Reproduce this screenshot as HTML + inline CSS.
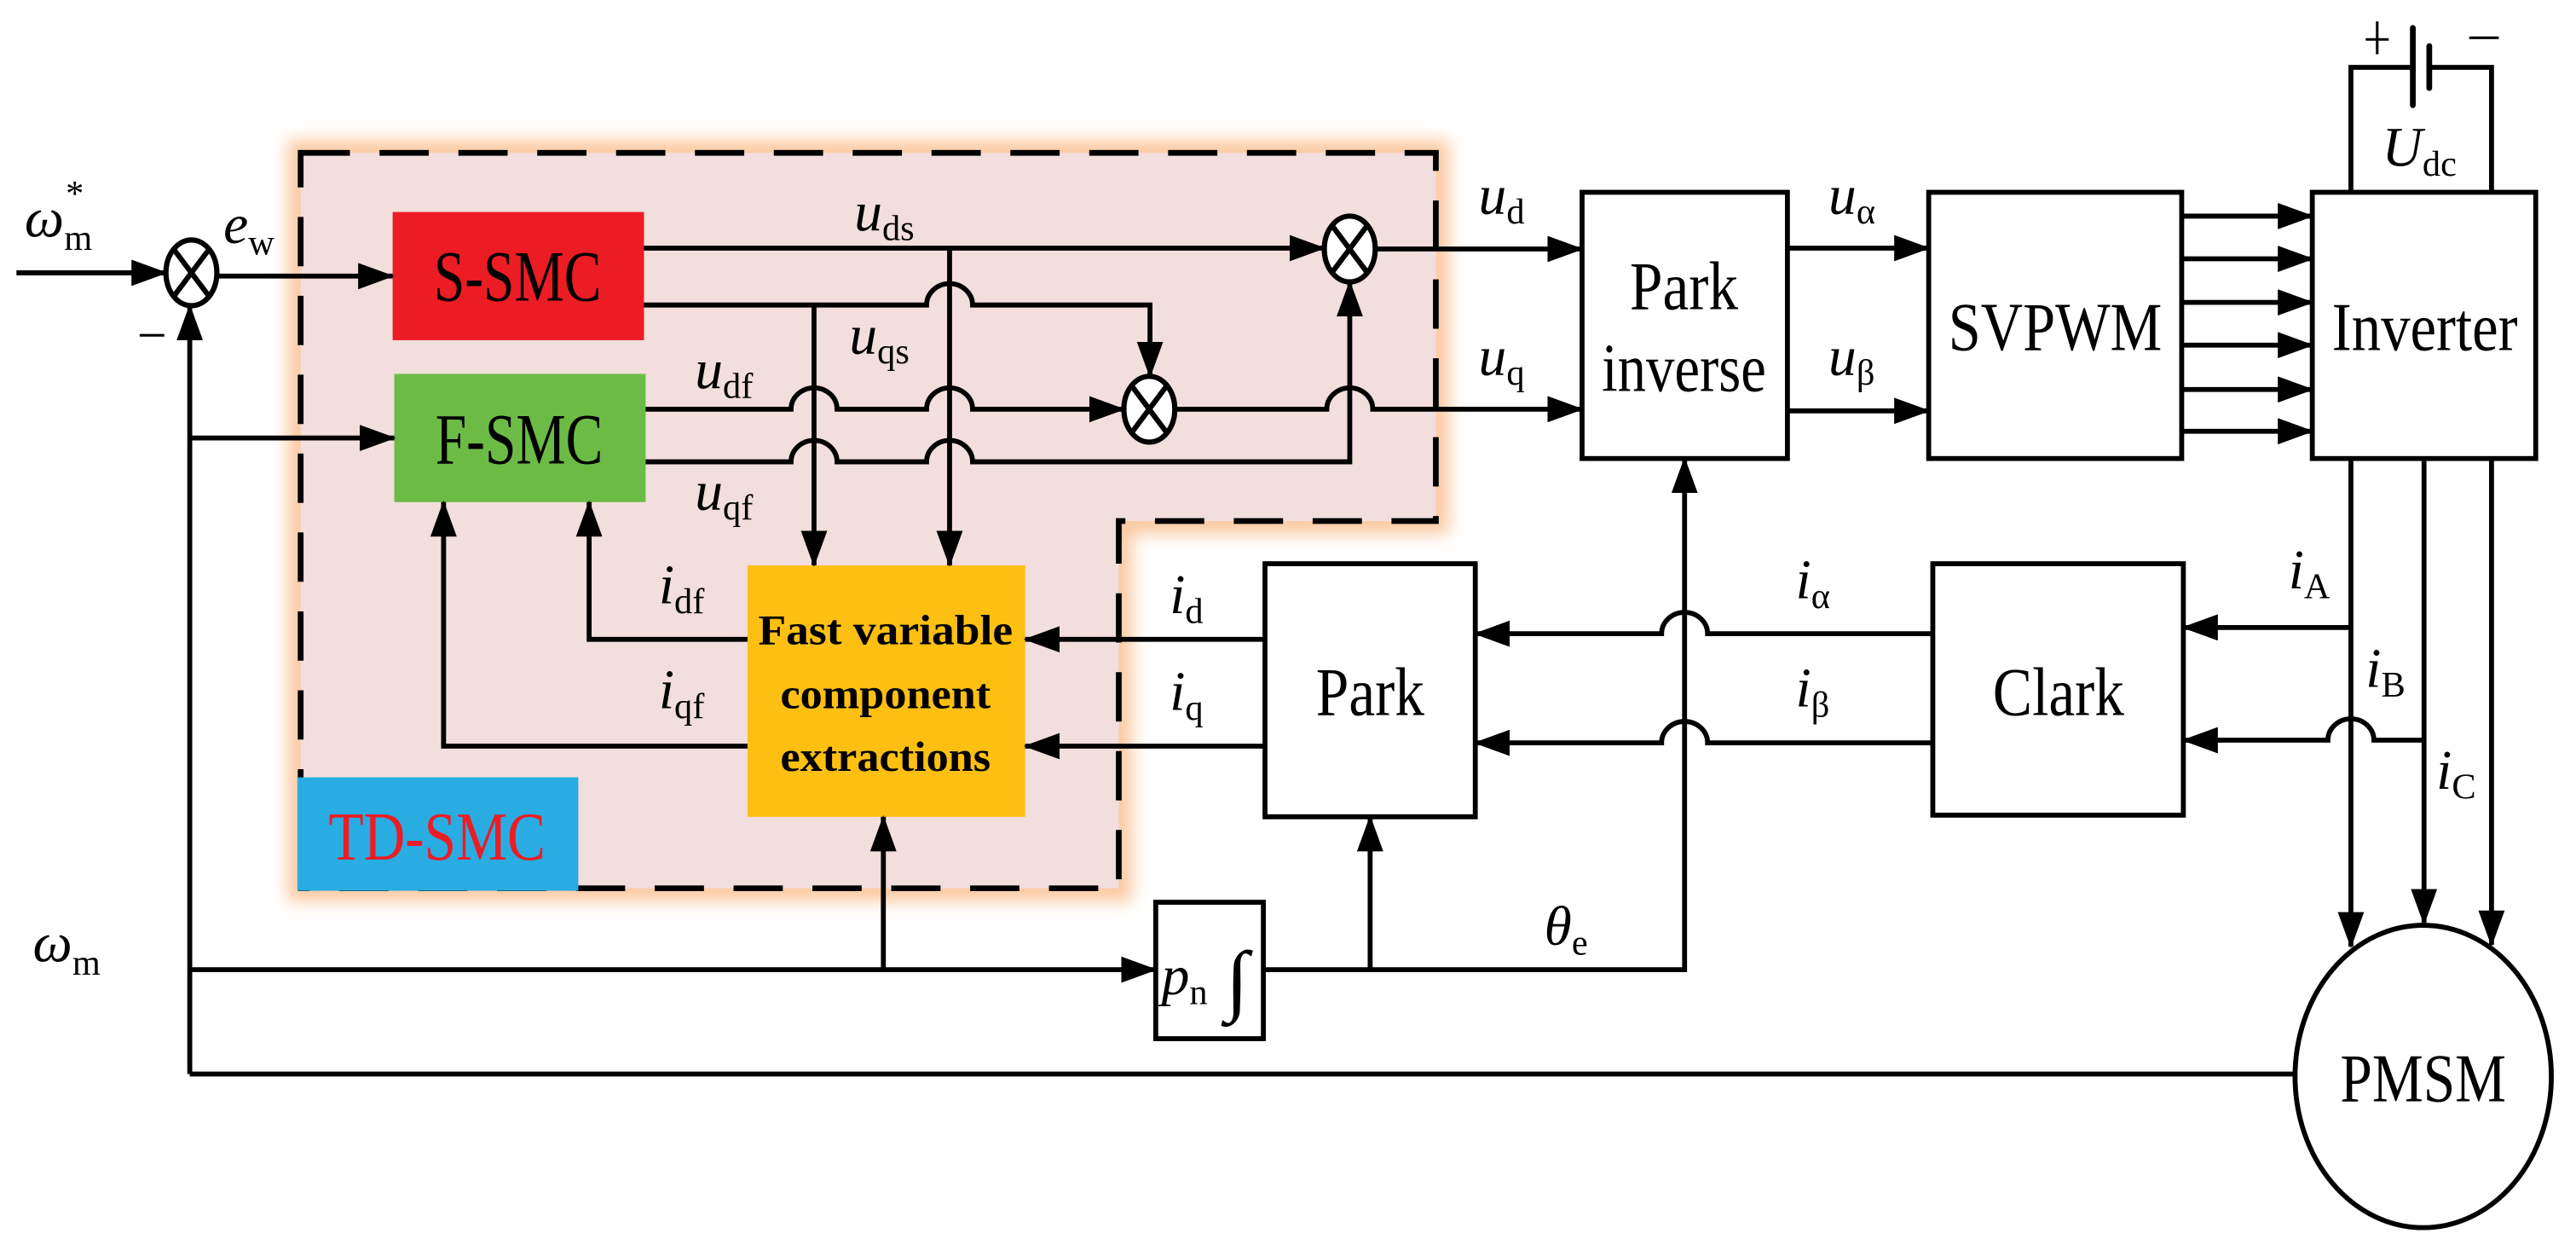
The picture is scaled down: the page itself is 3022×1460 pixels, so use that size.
<!DOCTYPE html>
<html><head><meta charset="utf-8"><style>
html,body{margin:0;padding:0;background:#fff;}
svg{display:block;}
text{font-family:"Liberation Serif",serif;fill:#000;}
.it{font-style:italic;}
</style></head><body>
<svg width="3022" height="1460" viewBox="0 0 1568 757.55" xmlns="http://www.w3.org/2000/svg">
<defs>
<marker id="a" markerWidth="22" markerHeight="18" refX="21" refY="8" orient="auto" markerUnits="userSpaceOnUse">
<path d="M0,0 L22,8 L0,16 Z" fill="#000"/></marker>
<filter id="glow" x="-10%" y="-10%" width="120%" height="120%"><feGaussianBlur stdDeviation="5"/></filter>
</defs>
<path d="M183,93 H874 V317 H681 V540.5 H183 Z" fill="none" stroke="#fbc9a0" stroke-width="16" filter="url(#glow)"/>
<path d="M183,93 H874 V317 H681 V540.5 H183 Z" fill="#f2dedc"/>
<path d="M183,93 H874 V317 H681 V540.5 H183 Z" fill="none" stroke="#000" stroke-width="3.5" stroke-dasharray="30 18"/>

<rect x="239" y="129" width="153" height="78" fill="#ec1c24"/>
<text x="315" y="183" font-size="44" text-anchor="middle" textLength="102" lengthAdjust="spacingAndGlyphs">S-SMC</text>
<rect x="240" y="227.5" width="153" height="78" fill="#6cbb45"/>
<text x="316" y="282" font-size="44" text-anchor="middle" textLength="102" lengthAdjust="spacingAndGlyphs">F-SMC</text>
<rect x="455" y="344" width="169" height="153" fill="#fcbf12"/>
<g font-weight="bold" font-size="26" text-anchor="middle">
<text x="539" y="392" textLength="155" lengthAdjust="spacingAndGlyphs">Fast variable</text>
<text x="539" y="431" textLength="128" lengthAdjust="spacingAndGlyphs">component</text>
<text x="539" y="469" textLength="128" lengthAdjust="spacingAndGlyphs">extractions</text>
</g>
<rect x="181" y="473" width="171" height="69" fill="#29ace2"/>
<text x="266" y="523" font-size="42" text-anchor="middle" style="fill:#ec1c24" textLength="132" lengthAdjust="spacingAndGlyphs">TD-SMC</text>

<g fill="#fff" stroke="#000" stroke-width="3">
<rect x="963" y="117" width="125" height="162"/>
<rect x="1174" y="117" width="154" height="162"/>
<rect x="1407.5" y="117" width="136" height="162"/>
<rect x="770" y="343" width="128" height="154"/>
<rect x="1176.5" y="343" width="152.5" height="153"/>
<rect x="703.5" y="549" width="65.5" height="83"/>
<ellipse cx="1475" cy="655" rx="78" ry="92"/>
</g>
<g font-size="42" text-anchor="middle">
<text x="1025" y="188" textLength="66" lengthAdjust="spacingAndGlyphs">Park</text>
<text x="1025" y="238" textLength="100" lengthAdjust="spacingAndGlyphs">inverse</text>
<text x="1251" y="213" textLength="130" lengthAdjust="spacingAndGlyphs">SVPWM</text>
<text x="1476" y="213" textLength="113" lengthAdjust="spacingAndGlyphs">Inverter</text>
<text x="834" y="435" textLength="66" lengthAdjust="spacingAndGlyphs">Park</text>
<text x="1253" y="435" textLength="80" lengthAdjust="spacingAndGlyphs">Clark</text>
<text x="1475" y="670" textLength="101" lengthAdjust="spacingAndGlyphs">PMSM</text>
</g>

<g fill="#fff" stroke="#000" stroke-width="3.2">
<ellipse cx="116.5" cy="166" rx="15.5" ry="20"/>
<ellipse cx="821.6" cy="151.5" rx="15.5" ry="20"/>
<ellipse cx="699.6" cy="249" rx="15.5" ry="20"/>
</g>
<g stroke="#000" stroke-width="3.2">
<path d="M106,152 L127,180 M127,152 L106,180"/>
<path d="M811,137.5 L832,165.5 M832,137.5 L811,165.5"/>
<path d="M689,235 L710,263 M710,235 L689,263"/>
</g>

<g fill="none" stroke="#000" stroke-width="3">
<path d="M10,166 H101" marker-end="url(#a)"/>
<path d="M132,168 H239" marker-end="url(#a)"/>
<path d="M115.5,653.5 V186" marker-end="url(#a)"/>
<path d="M115.5,653.5 H1397"/>
<path d="M115.5,266.5 H240" marker-end="url(#a)"/>
<path d="M115.5,590 H703.5" marker-end="url(#a)"/>
<path d="M537.7,590 V497" marker-end="url(#a)"/>
<path d="M769,590 H1025.4 V279" marker-end="url(#a)"/>
<path d="M834,590 V497" marker-end="url(#a)"/>
<path d="M392,151 H806" marker-end="url(#a)"/>
<path d="M392,185.6 H564 A14,13 0 0 1 592,185.6 H700 V229" marker-end="url(#a)"/>
<path d="M495.5,185.6 V344" marker-end="url(#a)"/>
<path d="M578,151 V344" marker-end="url(#a)"/>
<path d="M393,249 H481.5 A14,13 0 0 1 509.5,249 H564 A14,13 0 0 1 592,249 H684" marker-end="url(#a)"/>
<path d="M393,281 H481.5 A14,13 0 0 1 509.5,281 H564 A14,13 0 0 1 592,281 H821.6 V171.5" marker-end="url(#a)"/>
<path d="M715,249 H807.6 A14,13 0 0 1 835.6,249 H963" marker-end="url(#a)"/>
<path d="M837,151.5 H963" marker-end="url(#a)"/>
<path d="M1088,151 H1174" marker-end="url(#a)"/>
<path d="M1088,250 H1174" marker-end="url(#a)"/>
<path d="M1328,131.5 H1407.5" marker-end="url(#a)"/>
<path d="M1328,157.5 H1407.5" marker-end="url(#a)"/>
<path d="M1328,184 H1407.5" marker-end="url(#a)"/>
<path d="M1328,210 H1407.5" marker-end="url(#a)"/>
<path d="M1328,237 H1407.5" marker-end="url(#a)"/>
<path d="M1328,262.4 H1407.5" marker-end="url(#a)"/>
<path d="M1431,117 V41 H1468.7 M1478.7,41 H1516.6 V117"/>
<path d="M1431,279 V576" marker-end="url(#a)"/>
<path d="M1475.5,279 V562" marker-end="url(#a)"/>
<path d="M1516.6,279 V575" marker-end="url(#a)"/>
<path d="M1431,381.8 H1329" marker-end="url(#a)"/>
<path d="M1475.5,450.4 H1445 A14,13 0 0 0 1417,450.4 H1329" marker-end="url(#a)"/>
<path d="M1176.5,385.6 H1039.4 A14,13 0 0 0 1011.4,385.6 H898" marker-end="url(#a)"/>
<path d="M1176.5,452 H1039.4 A14,13 0 0 0 1011.4,452 H898" marker-end="url(#a)"/>
<path d="M770,389 H624" marker-end="url(#a)"/>
<path d="M770,454 H624" marker-end="url(#a)"/>
<path d="M455,389 H358.6 V305.5" marker-end="url(#a)"/>
<path d="M455,454 H270 V305.5" marker-end="url(#a)"/>
</g>
<g stroke="#000" stroke-linecap="round">
<line x1="1468.7" y1="17" x2="1468.7" y2="64" stroke-width="3.5"/>
<line x1="1478.7" y1="28" x2="1478.7" y2="53.6" stroke-width="3.5"/>
<line x1="1440" y1="24" x2="1454" y2="24" stroke-width="1.6" stroke-linecap="butt"/>
<line x1="1447" y1="13" x2="1447" y2="33" stroke-width="1.6" stroke-linecap="butt"/>
<line x1="1503" y1="23" x2="1521" y2="23" stroke-width="1.6" stroke-linecap="butt"/>
<line x1="85" y1="204" x2="100" y2="204" stroke-width="1.6" stroke-linecap="butt"/>
</g>

<g font-size="34">
<text class="it" x="15" y="144">ω<tspan style="font-style:normal" font-size="22" dy="8">m</tspan></text>
<text x="40" y="125" font-size="22">*</text>
<text class="it" x="136" y="148">e<tspan style="font-style:normal" font-size="22" dy="7">w</tspan></text>
<text class="it" x="20" y="585">ω<tspan style="font-style:normal" font-size="22" dy="8">m</tspan></text>
<text class="it" x="520" y="140">u<tspan style="font-style:normal" font-size="22" dy="6">ds</tspan></text>
<text class="it" x="517" y="215">u<tspan style="font-style:normal" font-size="22" dy="6">qs</tspan></text>
<text class="it" x="423" y="236">u<tspan style="font-style:normal" font-size="22" dy="6">df</tspan></text>
<text class="it" x="423" y="310">u<tspan style="font-style:normal" font-size="22" dy="6">qf</tspan></text>
<text class="it" x="401" y="367">i<tspan style="font-style:normal" font-size="22" dy="6">df</tspan></text>
<text class="it" x="401" y="431">i<tspan style="font-style:normal" font-size="22" dy="6">qf</tspan></text>
<text class="it" x="712" y="373">i<tspan style="font-style:normal" font-size="22" dy="6">d</tspan></text>
<text class="it" x="712" y="432">i<tspan style="font-style:normal" font-size="22" dy="6">q</tspan></text>
<text class="it" x="900" y="130">u<tspan style="font-style:normal" font-size="22" dy="6">d</tspan></text>
<text class="it" x="900" y="228">u<tspan style="font-style:normal" font-size="22" dy="6">q</tspan></text>
<text class="it" x="1113" y="130">u<tspan style="font-style:normal" font-size="22" dy="6">α</tspan></text>
<text class="it" x="1113" y="228">u<tspan style="font-style:normal" font-size="22" dy="6">β</tspan></text>
<text class="it" x="1093" y="364">i<tspan style="font-style:normal" font-size="22" dy="6">α</tspan></text>
<text class="it" x="1093" y="430">i<tspan style="font-style:normal" font-size="22" dy="6">β</tspan></text>
<text class="it" x="1393" y="358">i<tspan style="font-style:normal" font-size="22" dy="6">A</tspan></text>
<text class="it" x="1440" y="418">i<tspan style="font-style:normal" font-size="22" dy="6">B</tspan></text>
<text class="it" x="1483" y="480">i<tspan style="font-style:normal" font-size="22" dy="6">C</tspan></text>
<text class="it" x="940" y="575">θ<tspan style="font-style:normal" font-size="22" dy="6">e</tspan></text>
<text class="it" x="1450" y="101">U<tspan style="font-style:normal" font-size="22" dy="6">dc</tspan></text>
<text class="it" x="707" y="605">p<tspan style="font-style:normal" font-size="22" dy="6">n</tspan></text>
<text x="746" y="612" font-size="48" textLength="14" lengthAdjust="spacingAndGlyphs">∫</text>
</g>
</svg>
</body></html>
